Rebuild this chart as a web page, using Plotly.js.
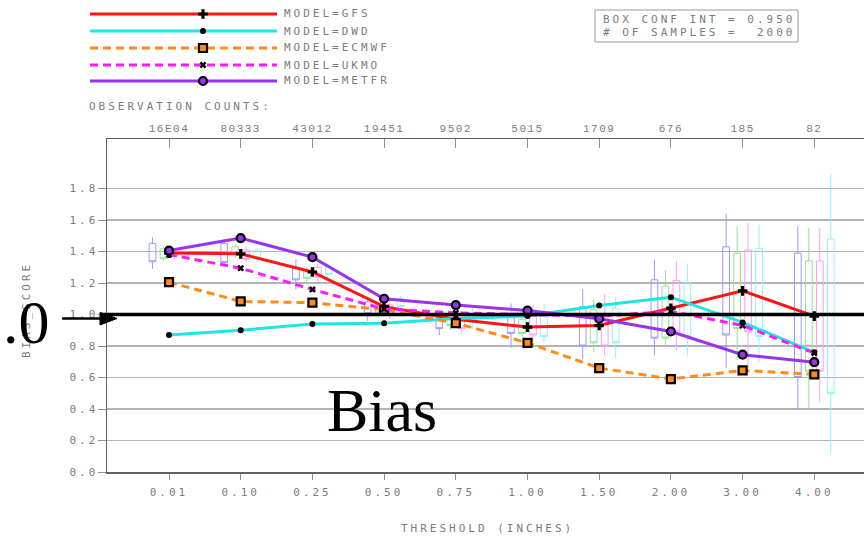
<!DOCTYPE html>
<html>
<head>
<meta charset="utf-8">
<script src="https://cdn.plot.ly/plotly-3.0.1.min.js"></script>
<style>
  html, body { margin: 0; padding: 0; background: #fff; }
  #chart { width: 864px; height: 538px; }
  /* wide stroke-style lettering for the plot annotations */
  text[style*="DejaVu Sans Mono"] { letter-spacing: 3px; }
  text[style*="Liberation Mono"] { letter-spacing: 1.5px; }
</style>
</head>
<body>
<div id="chart"></div>
<script>
// ---- data ----
const thresholds = ['0.01', '0.10', '0.25', '0.50', '0.75', '1.00', '1.50', '2.00', '3.00', '4.00'];
const obsCounts  = ['16E04', '80333', '43012', '19451', '9502', '5015', '1709', '676', '185', '82'];
const yTickVals  = [0.0, 0.2, 0.4, 0.6, 0.8, 1.0, 1.2, 1.4, 1.6, 1.8];
const yTickText  = ['0.0', '0.2', '0.4', '0.6', '0.8', '1.0', '1.2', '1.4', '1.6', '1.8'];

const gfs   = [1.39, 1.385, 1.27, 1.05, 0.97, 0.92, 0.93, 1.04, 1.15, 0.99];
const dwd   = [0.87, 0.90, 0.94, 0.945, 0.975, 0.99, 1.057, 1.11, 0.95, 0.76];
const ecmwf = [1.205, 1.083, 1.075, 1.03, 0.945, 0.82, 0.66, 0.59, 0.645, 0.62];
const ukmo  = [1.38, 1.294, 1.159, 1.035, 1.01, 1.0, 0.99, 1.02, 0.93, 0.755];
const metfr = [1.406, 1.485, 1.364, 1.10, 1.06, 1.025, 0.973, 0.892, 0.745, 0.697];

// confidence boxes per threshold: [whisker low, box low, box high, whisker high]
const ciBlue = [
  [1.29, 1.335, 1.45, 1.49], [1.31, 1.33, 1.45, 1.48], [1.16, 1.22, 1.30, 1.35],
  [0.96, 1.005, 1.08, 1.11], [0.87, 0.91, 0.98, 1.02], [0.79, 0.88, 0.98, 1.07],
  [0.72, 0.80, 1.05, 1.16], [0.74, 0.85, 1.22, 1.35], [0.66, 0.87, 1.43, 1.64],
  [0.40, 0.60, 1.39, 1.56]
];
const ciGreen = [
  [1.34, 1.354, 1.417, 1.43], [1.36, 1.38, 1.43, 1.45], [1.195, 1.23, 1.28, 1.30],
  [0.98, 1.01, 1.06, 1.08], [0.90, 0.93, 0.98, 1.01], [0.86, 0.88, 0.97, 1.02],
  [0.76, 0.82, 1.03, 1.10], [0.80, 0.85, 1.18, 1.28], [0.71, 0.91, 1.39, 1.56],
  [0.40, 0.64, 1.34, 1.55]
];
const ciPink = [
  [1.35, 1.37, 1.40, 1.42], [1.33, 1.35, 1.41, 1.43], [1.205, 1.237, 1.30, 1.32],
  [0.97, 1.00, 1.06, 1.09], [0.88, 0.91, 0.98, 1.02], [0.83, 0.87, 0.99, 1.06],
  [0.74, 0.80, 1.00, 1.13], [0.77, 0.89, 1.215, 1.34], [0.66, 0.89, 1.41, 1.58],
  [0.44, 0.64, 1.34, 1.55]
];
const ciCyan = [
  [1.36, 1.37, 1.40, 1.41], [1.33, 1.36, 1.41, 1.42], [1.25, 1.253, 1.30, 1.32],
  [0.99, 1.05, 1.10, 1.12], [0.91, 0.95, 1.00, 1.05], [0.82, 0.86, 1.00, 1.07],
  [0.72, 0.82, 1.04, 1.11], [0.74, 0.86, 1.205, 1.32], [0.70, 0.86, 1.42, 1.57],
  [0.12, 0.50, 1.48, 1.89]
];

// ---- page geometry (pixels) ----
const W = 864, H = 538;
const PX = v => v / W;           // pixel x -> paper
const PY = v => 1 - v / H;       // pixel y -> paper
const GRAY = '#7c7c7c';
const MONO = 'DejaVu Sans Mono';
const plotLeft = 107, plotTop = 139, plotBottom = 472;
const catStep = 71.7, firstCat = 169;        // pixel spacing of thresholds
const unitPx = 157.5;                         // pixels per bias unit
const xRange = [(plotLeft - firstCat) / catStep, (W - firstCat) / catStep];
const yRange = [0, (plotBottom - plotTop) / unitPx];

// ---- model styles ----
const models = [
  { name: 'GFS',   y: gfs,   color: '#ff1414', dash: 'solid',
    marker: { symbol: 'cross', size: 8, color: '#000' } },
  { name: 'DWD',   y: dwd,   color: '#1ee6e6', dash: 'solid',
    marker: { symbol: 'circle', size: 6, color: '#000' } },
  { name: 'ECMWF', y: ecmwf, color: '#ff8c1a', dash: '8px,5px',
    marker: { symbol: 'square', size: 8, color: '#ff8c1a', line: { color: '#000', width: 2.2 } } },
  { name: 'UKMO',  y: ukmo,  color: '#ff1aff', dash: '8px,5px',
    marker: { symbol: 'x', size: 6, color: '#000' } },
  { name: 'METFR', y: metfr, color: '#9933ee', dash: 'solid',
    marker: { symbol: 'circle', size: 8, color: '#9933ee', line: { color: '#000', width: 2.2 } } }
];

const boxes = [
  { data: ciBlue,  color: '#9a9aff' },
  { data: ciGreen, color: '#8fe68f' },
  { data: ciPink,  color: '#ff9cff' },
  { data: ciCyan,  color: '#8cf5f5' }
];

const traces = [];

// confidence boxes
boxes.forEach(b => {
  traces.push({
    type: 'box', x: thresholds,
    lowerfence: b.data.map(r => r[0]),
    q1: b.data.map(r => r[1]),
    median: b.data.map(r => r[1]),
    q3: b.data.map(r => r[2]),
    upperfence: b.data.map(r => r[3]),
    line: { color: b.color, width: 1 },
    fillcolor: 'rgba(0,0,0,0)',
    whiskerwidth: 0,
    boxpoints: false,
    hoverinfo: 'skip',
    showlegend: false
  });
});

// model lines
models.forEach(m => {
  traces.push({
    type: 'scatter', mode: 'lines+markers', name: m.name,
    x: thresholds, y: m.y,
    line: { color: m.color, width: 3, dash: m.dash },
    marker: m.marker,
    showlegend: false, cliponaxis: false
  });
});

// carrier for the observation-count axis along the top
traces.push({
  type: 'scatter', mode: 'markers', x: obsCounts, y: gfs,
  xaxis: 'x2', yaxis: 'y', marker: { opacity: 0 },
  hoverinfo: 'skip', showlegend: false
});

// hand-drawn key in the upper left
const keyRows = [14, 31, 48, 65, 81];
const keyX0 = 90, keyX1 = 277, keyMid = 203, keyText = 282;
const annotations = [];
models.forEach((m, i) => {
  traces.push({
    type: 'scatter', mode: 'lines', x: [keyX0, keyX1], y: [keyRows[i], keyRows[i]],
    xaxis: 'x3', yaxis: 'y3', line: { color: m.color, width: 3, dash: m.dash },
    hoverinfo: 'skip', showlegend: false
  });
  traces.push({
    type: 'scatter', mode: 'markers', x: [keyMid], y: [keyRows[i]],
    xaxis: 'x3', yaxis: 'y3', marker: m.marker,
    hoverinfo: 'skip', showlegend: false
  });
  annotations.push({
    xref: 'paper', yref: 'paper', x: PX(keyText), y: PY(keyRows[i]),
    xanchor: 'left', yanchor: 'middle', showarrow: false,
    text: 'MODEL=' + m.name, font: { family: MONO, size: 11, color: GRAY }
  });
});

const grayText = (text, x, y, xanchor, extra) => Object.assign({
  xref: 'paper', yref: 'paper', x: PX(x), y: PY(y),
  xanchor: xanchor, yanchor: 'middle', showarrow: false, text: text,
  font: { family: MONO, size: 11, color: GRAY }
}, extra || {});

annotations.push(grayText('OBSERVATION COUNTS:', 86.5, 106.5, 'left'));
annotations.push(grayText('BOX CONF INT = 0.950', 600.5, 19.3, 'left'));
annotations.push(grayText('# OF SAMPLES =\u00a0\u00a02000', 600.5, 32.7, 'left'));
annotations.push(grayText('THRESHOLD (INCHES)', 487, 528, 'center'));
annotations.push(grayText('BIAS_SCORE', 26, 310, 'center', { textangle: -90 }));

// large serif call-out
annotations.push({
  xref: 'paper', yref: 'paper', x: PX(1), y: PY(322), xanchor: 'left', yanchor: 'middle',
  showarrow: false, text: '.0', font: { family: 'Liberation Serif', size: 62, color: '#000' }
});
annotations.push({
  xref: 'paper', yref: 'paper', x: PX(382), y: PY(410), xanchor: 'center', yanchor: 'middle',
  showarrow: false, text: 'Bias', font: { family: 'Liberation Serif', size: 62, color: '#000' }
});

const shapes = [
  // box around the sampling note
  { type: 'rect', xref: 'paper', yref: 'paper', x0: PX(595), x1: PX(798), y0: PY(10), y1: PY(42),
    line: { color: '#9a9a9a', width: 1 } },
  // reference line at bias = 1
  { type: 'line', xref: 'paper', yref: 'y', x0: PX(100), x1: 1, y0: 1.0, y1: 1.0,
    line: { color: '#000', width: 3.5 } },
  // pointer arrow
  { type: 'line', xref: 'paper', yref: 'paper', x0: PX(62), x1: PX(102), y0: PY(318.5), y1: PY(318.5),
    line: { color: '#000', width: 2.5 } },
  { type: 'path', xref: 'paper', yref: 'paper',
    path: `M${PX(100)},${PY(312.5)} L${PX(117)},${PY(318.5)} L${PX(100)},${PY(325)} Z`,
    fillcolor: '#000', line: { color: '#000', width: 1 } }
];

const layout = {
  width: W, height: H,
  margin: { l: 0, r: 0, t: 0, b: 0, pad: 0, autoexpand: false },
  paper_bgcolor: '#fff', plot_bgcolor: 'rgba(0,0,0,0)',
  showlegend: false,
  boxmode: 'group', boxgap: 0.387, boxgroupgap: 0.39,
  xaxis: {
    domain: [PX(plotLeft), 1], range: xRange, type: 'category',
    showline: true, mirror: true, linecolor: '#606060', linewidth: 1.5,
    ticks: 'outside', ticklen: 6, tickcolor: '#909090', tickwidth: 1,
    showgrid: false, zeroline: false,
    tickfont: { family: MONO, size: 11, color: GRAY }, ticklabelstandoff: 3
  },
  xaxis2: {
    overlaying: 'x', side: 'top', anchor: 'y', type: 'category', range: xRange,
    ticks: 'inside', ticklen: 9, tickcolor: '#909090', tickwidth: 1,
    showline: false, showgrid: false, zeroline: false,
    tickfont: { family: 'Liberation Mono', size: 11, color: GRAY }, ticklabelstandoff: 4
  },
  yaxis: {
    domain: [PY(plotBottom), PY(plotTop)], range: yRange,
    tickmode: 'array', tickvals: yTickVals, ticktext: yTickText,
    showline: true, linecolor: '#606060', linewidth: 1.5,
    ticks: 'outside', ticklen: 8, tickcolor: '#909090', tickwidth: 1,
    showgrid: true, gridcolor: '#b4b4b4', gridwidth: 1.5, zeroline: false,
    tickfont: { family: MONO, size: 11, color: GRAY }, ticklabelstandoff: -3
  },
  xaxis3: { domain: [0, 1], range: [0, W], visible: false, fixedrange: true, anchor: 'y3' },
  yaxis3: { domain: [0, 1], range: [H, 0], visible: false, fixedrange: true, anchor: 'x3' },
  annotations: annotations,
  shapes: shapes
};

Plotly.newPlot('chart', traces, layout, { displayModeBar: false, staticPlot: true });
</script>
</body>
</html>
